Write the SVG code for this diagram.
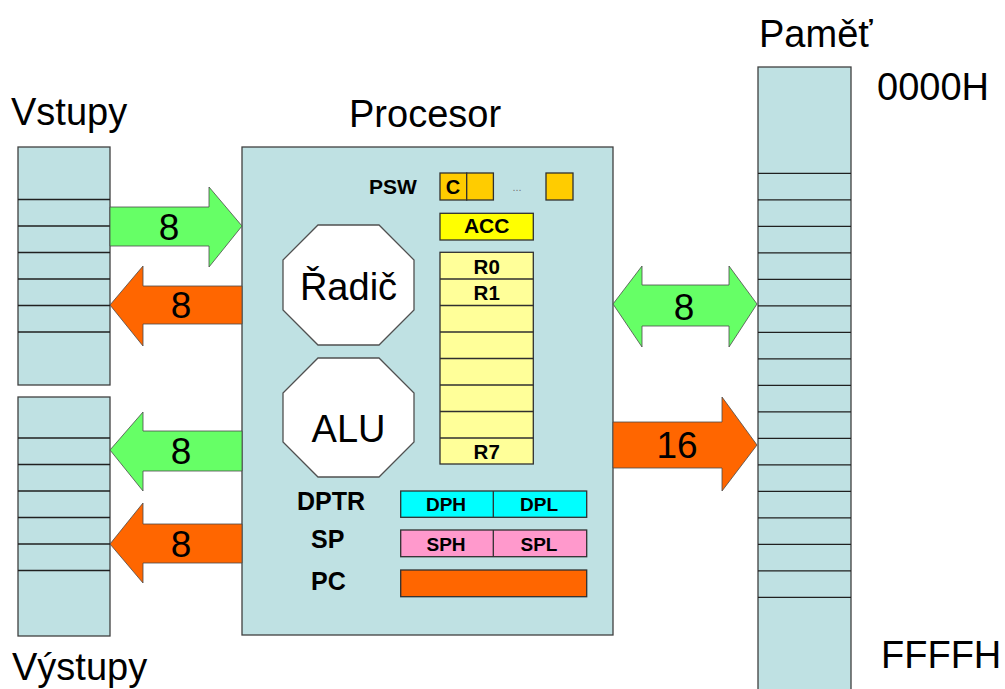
<svg xmlns="http://www.w3.org/2000/svg" width="1005" height="689" viewBox="0 0 1005 689">
<style>
.big{font-family:"Liberation Sans",Arial,sans-serif;font-size:38px;fill:#000}
.num{font-family:"Liberation Sans",Arial,sans-serif;font-size:37px;fill:#000;text-anchor:middle}
.b{font-family:"Liberation Sans",Arial,sans-serif;font-weight:bold;fill:#000}
.mid{text-anchor:middle}
.box{fill:#BFE1E3;stroke:#404040;stroke-width:1.3}
.cell{stroke:#202020;stroke-width:1.3}
.reg{stroke:#303030;stroke-width:1.3}
.oct{fill:#fff;stroke:#505050;stroke-width:1.3}
.g{fill:#66FF66;stroke:#4a4a4a;stroke-width:0.8}
.o{fill:#FF6600;stroke:#4a4a4a;stroke-width:0.8}
</style>
<rect width="1005" height="689" fill="#fff"/>

<g id="vstupy">
<rect class="box" x="18" y="147" width="92" height="238"/>
<path class="cell" d="M18 199.5H110M18 226H110M18 252.5H110M18 279H110M18 305.5H110M18 332H110"/>
<text class="big" x="11" y="125">Vstupy</text>
</g>

<g id="vystupy">
<rect class="box" x="18" y="397" width="92" height="239"/>
<path class="cell" d="M18 438H110M18 464.5H110M18 491H110M18 517.5H110M18 544H110M18 570.5H110"/>
<text class="big" x="12" y="680">Výstupy</text>
</g>

<g id="procesor">
<rect class="box" x="242" y="147" width="371" height="488"/>
<text class="big" x="349" y="126.7">Procesor</text>
</g>

<g id="pamet">
<rect class="box" x="758" y="67" width="93" height="625"/>
<path class="cell" d="M758 173.3H851M758 199.8H851M758 226.3H851M758 252.8H851M758 279.3H851M758 305.8H851M758 332.3H851M758 358.8H851M758 385.3H851M758 411.8H851M758 438.3H851M758 464.8H851M758 491.3H851M758 517.8H851M758 544.3H851M758 570.8H851M758 597.3H851"/>
<text class="big" x="759" y="46.7">Paměť</text>
<text class="big" x="877" y="100">0000H</text>
<text class="big" x="881" y="668">FFFFH</text>
</g>

<g id="psw">
<text class="b" x="369" y="194" font-size="21">PSW</text>
<rect class="reg" x="440" y="173" width="26.7" height="27" fill="#FFCC00"/>
<rect class="reg" x="466.7" y="173" width="26.7" height="27" fill="#FFCC00"/>
<text class="b mid" x="453" y="193.5" font-size="20">C</text>
<text x="517" y="191" font-family="Liberation Sans,Arial,sans-serif" font-size="11" fill="#777" text-anchor="middle">...</text>
<rect class="reg" x="546" y="173" width="27" height="27" fill="#FFCC00"/>
</g>

<g id="acc">
<rect class="reg" x="440" y="213.3" width="93.3" height="26.7" fill="#FFFF00"/>
<text class="b mid" x="486.7" y="233.3" font-size="21">ACC</text>
</g>

<g id="registers">
<rect class="reg" x="440" y="252.3" width="93.3" height="211.7" fill="#FFFF99"/>
<path class="reg" d="M440 279H533.3M440 305.5H533.3M440 332H533.3M440 358.5H533.3M440 385H533.3M440 411.5H533.3M440 438H533.3"/>
<text class="b mid" x="486.7" y="273.5" font-size="20.5">R0</text>
<text class="b mid" x="486.7" y="300" font-size="20.5">R1</text>
<text class="b mid" x="486.7" y="458.5" font-size="20.5">R7</text>
</g>

<g id="radic">
<polygon class="oct" points="318,225 379,225 414,260 414,310 379,345 318,345 283,310 283,260"/>
<text class="big mid" x="348.5" y="300">Řadič</text>
</g>

<g id="alu">
<polygon class="oct" points="318,358 379,358 414,393 414,442 379,477 318,477 283,442 283,393"/>
<text class="big mid" x="348.5" y="442.3">ALU</text>
</g>

<g id="dptr">
<text class="b" x="297" y="510" font-size="25">DPTR</text>
<rect class="reg" x="400.7" y="491" width="186" height="26.3" fill="#00FFFF"/>
<path class="reg" d="M493.3 491V517.3"/>
<text class="b mid" x="446" y="511" font-size="19">DPH</text>
<text class="b mid" x="539" y="511" font-size="19">DPL</text>
</g>

<g id="sp">
<text class="b" x="311" y="548.3" font-size="25">SP</text>
<rect class="reg" x="400.7" y="530" width="186" height="26.7" fill="#FF99CC"/>
<path class="reg" d="M493.3 530V556.7"/>
<text class="b mid" x="446" y="551" font-size="19">SPH</text>
<text class="b mid" x="539" y="551" font-size="19">SPL</text>
</g>

<g id="pc">
<text class="b" x="311" y="590" font-size="25">PC</text>
<rect class="reg" x="400.7" y="570" width="186" height="26.7" fill="#FF6600"/>
</g>

<g id="connectors">
<polygon class="g" points="110,207 209,207 209,187 242,226 209,267 209,246 110,246"/>
<text class="num" x="169" y="240">8</text>
<polygon class="o" points="242,286 143,286 143,266 110,305 143,346 143,324 242,324"/>
<text class="num" x="181" y="318.3">8</text>
<polygon class="g" points="242,431 143,431 143,412 110,450 143,491 143,471 242,471"/>
<text class="num" x="181" y="464">8</text>
<polygon class="o" points="242,524 143,524 143,503 110,544 143,583 143,563 242,563"/>
<text class="num" x="181" y="557.3">8</text>
<polygon class="g" points="613,304 642,266 642,285 729,285 729,266 757,304 729,347 729,326 642,326 642,347"/>
<text class="num" x="684" y="320">8</text>
<polygon class="o" points="613,422 722,422 722,397 757,445 722,491 722,468 613,468"/>
<text class="num" x="677" y="458.3">16</text>
</g>
</svg>
